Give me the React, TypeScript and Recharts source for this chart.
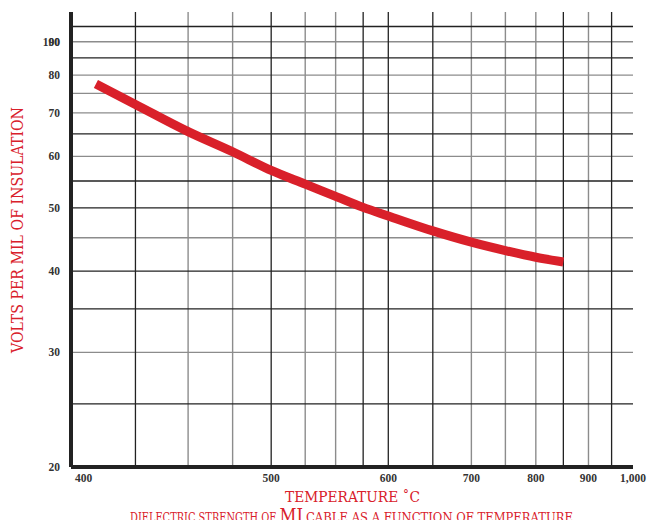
import React from "react";
import { LineChart, Line, XAxis, YAxis, CartesianGrid } from "recharts";

// temperature (deg C) vs dielectric strength (volts per mil)
const TEMPS = [409, 425, 450, 475, 500, 525, 550, 575, 600, 650, 700, 750, 800, 850];
const VOLTS = [77.5, 72.1, 65.5, 61.0, 57.1, 54.4, 52.1, 50.1, 48.6, 46.1, 44.3, 43.0, 42.0, 41.3];

const X_TICKS = [400, 500, 600, 700, 800, 900, 1000];
const X_GRID_DARK = [425, 500, 575, 600, 650, 850, 950];
const X_GRID_GRAY = [450, 475, 525, 550, 700, 750, 800, 900];

const Y_TICKS = [20, 30, 40, 50, 60, 70, 80, 90];
const Y_GRID_DARK = [25, 35, 40, 50, 55, 65, 85, 95];
const Y_GRID_GRAY = [30, 45, 60, 70, 75, 80, 90];

// the temperature axis is stretched like log(T - 300)
const toX = (t: number) => Math.log10(t - 300);
const fromX = (u: number) => Math.round(Math.pow(10, u) + 300);

const RED = "#d9202a";
const INK = "#222";
const GRAY = "#8c8c8c";
const TICK_FONT = "'Liberation Serif', serif";
const TITLE_FONT = "'DejaVu Serif', serif";

const data = TEMPS.map((t, i) => ({ u: toX(t), volts: VOLTS[i] }));
const xDomain = [toX(X_TICKS[0]), toX(X_TICKS[X_TICKS.length - 1])];

const XTick = ({ x, y, payload }: any) => {
  const t = fromX(payload.value);
  const first = t === X_TICKS[0];
  return (
    <text
      x={first ? x + 4 : x}
      y={y}
      dy={11}
      textAnchor={first ? "start" : "middle"}
      fontFamily={TICK_FONT}
      fontWeight="bold"
      fontSize={11.5}
      fill="#333"
    >
      {t.toLocaleString("en-US")}
    </text>
  );
};

const YTick = ({ x, y, payload }: any) => {
  const props = {
    x,
    y,
    dy: 4,
    textAnchor: "end" as const,
    fontFamily: TICK_FONT,
    fontWeight: "bold",
    fontSize: 11.5,
    fill: "#333",
  };
  return (
    <g>
      {payload.value === 90 && <text {...props}>100</text>}
      <text {...props}>{payload.value}</text>
    </g>
  );
};

export default function App() {
  return (
    <div style={{ position: "absolute", left: 0, top: 0, width: 651, height: 520, background: "#fff" }}>
      <LineChart
        width={651}
        height={520}
        data={data}
        margin={{ top: 12, right: 18, bottom: 0, left: 0 }}
      >
        <CartesianGrid
          stroke={GRAY}
          strokeWidth={1.4}
          horizontalValues={Y_GRID_GRAY}
          verticalValues={X_GRID_GRAY.map(toX)}
        />
        <CartesianGrid
          stroke={INK}
          strokeWidth={1.3}
          horizontalValues={Y_GRID_DARK}
          verticalValues={X_GRID_DARK.map(toX)}
        />
        <XAxis
          dataKey="u"
          type="number"
          domain={xDomain}
          allowDataOverflow
          ticks={X_TICKS.map(toX)}
          tick={<XTick />}
          tickLine={false}
          tickSize={0}
          tickMargin={4}
          height={53}
          axisLine={{ stroke: INK, strokeWidth: 4 }}
          interval={0}
        />
        <XAxis
          xAxisId="top"
          orientation="top"
          dataKey="u"
          type="number"
          domain={xDomain}
          allowDataOverflow
          tick={false}
          tickLine={false}
          height={0}
          axisLine={{ stroke: INK, strokeWidth: 3 }}
        />
        <YAxis
          type="number"
          scale="log"
          domain={[20, 100]}
          allowDataOverflow
          ticks={Y_TICKS}
          tick={<YTick />}
          tickLine={false}
          tickSize={0}
          tickMargin={11}
          width={71}
          axisLine={{ stroke: INK, strokeWidth: 4 }}
          interval={0}
        />
        <YAxis
          yAxisId="right"
          orientation="right"
          type="number"
          scale="log"
          domain={[20, 100]}
          allowDataOverflow
          tick={false}
          tickLine={false}
          width={0}
          axisLine={{ stroke: INK, strokeWidth: 3 }}
        />
        <Line
          dataKey="volts"
          type="monotone"
          stroke={RED}
          strokeWidth={9}
          strokeLinecap="butt"
          dot={false}
          activeDot={false}
          isAnimationActive={false}
        />
      </LineChart>
      <svg
        width={651}
        height={520}
        style={{ position: "absolute", left: 0, top: 0, pointerEvents: "none" }}
      >
        <g fontFamily={TITLE_FONT} fill={RED}>
          <text
            x={23}
            y={230}
            transform="rotate(-90 23 230)"
            textAnchor="middle"
            fontSize={17.4}
            textLength={246}
            lengthAdjust="spacingAndGlyphs"
          >
            VOLTS PER MIL  OF INSULATION
          </text>
          <text x={285} y={501.5} fontSize={14.7} textLength={135} lengthAdjust="spacingAndGlyphs">
            TEMPERATURE ˚C
          </text>
          <text y={521.5} fontSize={13.4} lengthAdjust="spacingAndGlyphs">
            <tspan x={130} textLength={146} lengthAdjust="spacingAndGlyphs">
              DIELECTRIC STRENGTH OF
            </tspan>
            <tspan x={279.5} fontSize={17.8} textLength={23.5} lengthAdjust="spacingAndGlyphs">
              MI
            </tspan>
            <tspan x={306} textLength={267} lengthAdjust="spacingAndGlyphs">
              CABLE AS A FUNCTION OF TEMPERATURE
            </tspan>
          </text>
        </g>
      </svg>
    </div>
  );
}
